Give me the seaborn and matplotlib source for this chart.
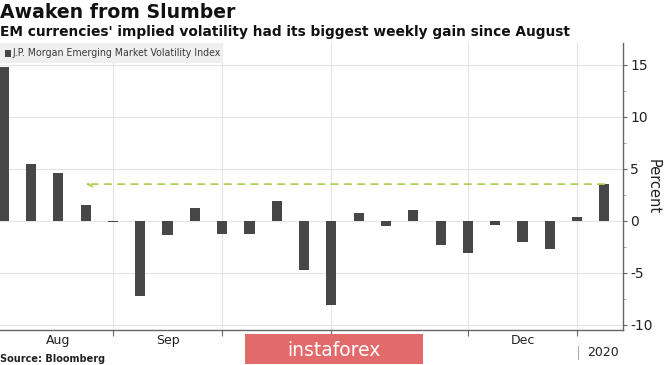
import matplotlib
matplotlib.use("Agg")
import matplotlib.pyplot as plt
import seaborn as sns
import pandas as pd
import numpy as np

# ---- data (weekly % change, J.P. Morgan EM Volatility Index) ----
weeks = list(range(23))
values = [14.8, 5.45, 4.6, 1.55, -0.12, -7.2, -1.4, 1.27, -1.28, -1.25, 1.9,
          -4.75, -8.1, 0.76, -0.5, 1.0, -2.3, -3.12, -0.38, -2.04, -2.68, 0.32, 3.56]
month_labels = ["Aug", "Sep", "Oct", "Nov", "Dec"]
month_label_pos = [2, 6, 10, 14.5, 19]
month_bounds = [4, 8, 12, 17, 21]
ref_level = 3.53
series_name = "J.P. Morgan Emerging Market Volatility Index"
title = "Awaken from Slumber"
subtitle = "EM currencies' implied volatility had its biggest weekly gain since August"

df = pd.DataFrame({"week": weeks, "value": values})

sns.set_theme(style="white")
plt.rcParams['font.family'] = ['DejaVu Sans']

fig = plt.figure(figsize=(6.65, 3.65), dpi=100)
ax = fig.add_axes([0.0, 1 - 330/365, 623/665, (330 - 43)/365])

grid_c = "#e4e4e4"
for y in [-10, -5, 0, 5, 10, 15]:
    ax.axhline(y, color=grid_c, lw=0.8, zorder=0)
for x in month_bounds:
    ax.axvline(x, color=grid_c, lw=0.8, zorder=0)

sns.barplot(data=df, x="week", y="value", color="#474747", width=0.37,
            saturation=1, ax=ax, zorder=3, linewidth=0, edgecolor="none")

ax.set_xlim(-0.136, 22.68)
ax.set_ylim(-10.5, 17.1)

# dashed reference line with arrow to August
ax.annotate("", xy=(3.0, ref_level), xytext=(22.0, ref_level),
            arrowprops=dict(arrowstyle="->", color="#a6cf45", lw=1.2,
                            linestyle=(0, (4, 4)), shrinkA=0, shrinkB=0,
                            mutation_scale=9), zorder=4)

# spines
for s in ["top", "left"]:
    ax.spines[s].set_visible(False)
for s in ["right", "bottom"]:
    ax.spines[s].set_color("#666666")
    ax.spines[s].set_linewidth(1.0)

# y axis right
ax.yaxis.tick_right()
ax.yaxis.set_label_position("right")
ax.set_yticks([-10, -5, 0, 5, 10, 15])
ax.set_yticklabels(["-10", "-5", "0", "5", "10", "15"])
ax.set_yticks([-7.5, -2.5, 2.5, 7.5, 12.5], minor=True)
ax.tick_params(axis="y", which="major", length=3, width=0.8, color="#666666",
               labelsize=10, labelcolor="#222222", pad=2, right=True, left=False)
ax.tick_params(axis="y", which="minor", length=2, width=0.6, color="#999999",
               right=True, left=False)
ax.set_ylabel("Percent", rotation=270, labelpad=6, fontsize=10.5, color="#222222")

# x axis: boundary ticks, month labels as minor
ax.set_xticks(month_bounds)
ax.set_xticklabels([""] * len(month_bounds))
ax.set_xticks(month_label_pos, minor=True)
ax.set_xticklabels(month_labels, minor=True)
ax.tick_params(axis="x", which="major", length=4, width=0.8, color="#666666",
               bottom=True)
ax.tick_params(axis="x", which="minor", length=0, labelsize=9,
               labelcolor="#222222", pad=3, bottom=False)
ax.set_xlabel("")

# year label
fig.text(587/665, 1 - 353/365, "2020", fontsize=9, color="#222222", va="center")
fig.add_artist(plt.Line2D([578/665, 578/665], [1 - 346/365, 1 - 359/365],
                          color="#aaaaaa", lw=0.8))

# legend box
fig.patches.append(matplotlib.patches.Rectangle((0, 1 - 63/365), 223/665, 20/365,
                   transform=fig.transFigure, facecolor="#efefef", edgecolor="none",
                   zorder=5))
fig.patches.append(matplotlib.patches.Rectangle((5/665, 1 - 57/365), 6/665, 7/365,
                   transform=fig.transFigure, facecolor="#474747", edgecolor="none",
                   zorder=6))
fig.text(13/665, 1 - 53/365, series_name, fontsize=7.6, color="#3a3a3a",
         va="center", ha="left", fontstretch="condensed", zorder=7)

# titles
fig.text(0, 1 - 12/365, title, fontsize=13.6, fontweight="bold", color="#111111",
         va="center", ha="left")
fig.text(0, 1 - 32/365, subtitle, fontsize=9.95, fontweight="bold", color="#111111",
         va="center", ha="left")

# source
fig.text(0, 1/365, "Source: Bloomberg", fontsize=7, fontweight="bold",
         color="#222222", va="bottom", ha="left")

# watermark
fig.patches.append(matplotlib.patches.Rectangle((245/665, 1 - 364/365), 178/665, 30/365,
                   transform=fig.transFigure, facecolor="#e36a6a", edgecolor="none",
                   zorder=10))
fig.text(334/665, 1 - 350/365, "instaforex", fontsize=13.5, color="white",
         va="center", ha="center", zorder=11)

fig.savefig("out.png", dpi=100)
